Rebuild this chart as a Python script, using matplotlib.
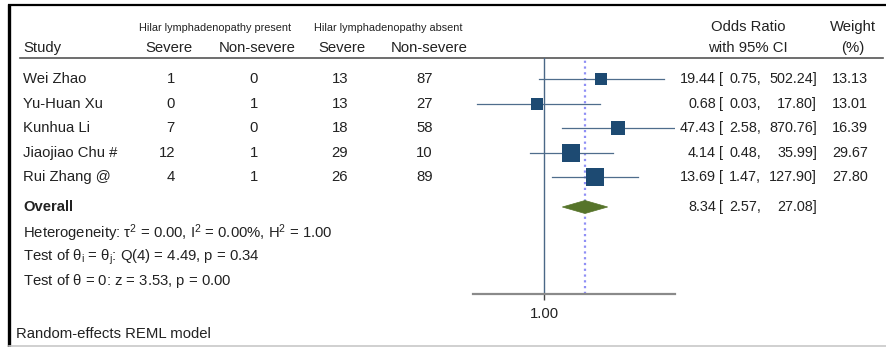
import numpy as np
import matplotlib

matplotlib.use("Agg")
import matplotlib.pyplot as plt
from matplotlib.patches import Polygon

plt.rcParams["font.family"] = ["Liberation Sans", "DejaVu Sans"]
plt.rcParams["mathtext.fontset"] = "custom"
plt.rcParams["mathtext.rm"] = "Liberation Sans"
plt.rcParams["mathtext.it"] = "Liberation Sans"
plt.rcParams["mathtext.default"] = "regular"

# data
studies = ["Wei Zhao", "Yu-Huan Xu", "Kunhua Li", "Jiaojiao Chu #", "Rui Zhang @"]
present_severe = [1, 0, 7, 12, 4]
present_nonsevere = [0, 1, 0, 1, 1]
absent_severe = [13, 13, 18, 29, 26]
absent_nonsevere = [87, 27, 58, 10, 89]
odds_ratio = [19.44, 0.68, 47.43, 4.14, 13.69]
ci_low = [0.75, 0.03, 2.58, 0.48, 1.47]
ci_high = [502.24, 17.80, 870.76, 35.99, 127.90]
weight = [13.13, 13.01, 16.39, 29.67, 27.80]
overall = (8.34, 2.57, 27.08)
het_text = r"Heterogeneity: $\tau^{2}$ = 0.00, $I^{2}$ = 0.00%, $H^{2}$ = 1.00"
q_text = r"Test of $\theta_{i}$ = $\theta_{j}$: Q(4) = 4.49, p = 0.34"
z_text = r"Test of $\theta$ = 0: z = 3.53, p = 0.00"
model_text = "Random-effects REML model"

W, H = 886, 347
TXT = "#222222"
FS = 10.7
FS_CI = 10.4
SQ = "#1d4a72"
CI_COL = "#4f6d8c"

fig = plt.figure(figsize=(W / 100, H / 100), dpi=100)
bg = fig.add_axes([0, 0, 1, 1])
bg.set_xlim(0, W)
bg.set_ylim(H, 0)
bg.axis("off")

# screenshot frame
bg.plot([8, W], [5, 5], color="black", lw=1.6, solid_capstyle="butt")
bg.plot([9.5, 9.5], [4, H], color="black", lw=2.4, solid_capstyle="butt")
bg.plot([9, W], [346, 346], color="#c8c8c8", lw=1.2)
# header rule
bg.plot([20, 883], [58, 58], color="#555555", lw=1.2)

# headers
bg.text(215, 28, "Hilar lymphadenopathy present", fontsize=7.8, color=TXT,
        ha="center", va="center")
bg.text(388, 28, "Hilar lymphadenopathy absent", fontsize=7.8, color=TXT,
        ha="center", va="center")
bg.text(23, 48, "Study", fontsize=FS, color=TXT, va="center")
for xc, lab in zip([169, 257, 342, 429], ["Severe", "Non-severe", "Severe", "Non-severe"]):
    bg.text(xc, 48, lab, fontsize=FS, color=TXT, ha="center", va="center")
bg.text(748, 27, "Odds Ratio", fontsize=FS, color=TXT, ha="center", va="center")
bg.text(748, 48, "with 95% CI", fontsize=FS, color=TXT, ha="center", va="center")
bg.text(853, 27, "Weight", fontsize=FS, color=TXT, ha="center", va="center")
bg.text(853, 48, "(%)", fontsize=FS, color=TXT, ha="center", va="center")

row_y = [79 + 24.5 * i for i in range(len(studies))]
cols = [present_severe, present_nonsevere, absent_severe, absent_nonsevere]
col_x = [175, 258, 348, 433]


def ci_text(y, est, lo, hi):
    bg.text(716, y, f"{est:.2f}", fontsize=FS_CI, color=TXT, ha="right", va="center")
    bg.text(719, y, "[", fontsize=FS_CI, color=TXT, ha="left", va="center")
    bg.text(761, y, f"{lo:.2f},", fontsize=FS_CI, color=TXT, ha="right", va="center")
    bg.text(817, y, f"{hi:.2f}]", fontsize=FS_CI, color=TXT, ha="right", va="center")


for i, y in enumerate(row_y):
    bg.text(23, y, studies[i], fontsize=FS, color=TXT, va="center")
    for cx, vals in zip(col_x, cols):
        bg.text(cx, y, str(vals[i]), fontsize=FS, color=TXT, ha="right", va="center")
    ci_text(y, odds_ratio[i], ci_low[i], ci_high[i])
    bg.text(868, y, f"{weight[i]:.2f}", fontsize=FS_CI, color=TXT, ha="right", va="center")

y_over = 207
bg.text(23, y_over, "Overall", fontsize=FS, color=TXT, va="center", fontweight="bold")
ci_text(y_over, *overall)
bg.text(23, 237.5, het_text, fontsize=FS, color=TXT, va="baseline")
bg.text(23, 261, q_text, fontsize=FS, color=TXT, va="baseline")
bg.text(23, 285.5, z_text, fontsize=FS, color=TXT, va="baseline")
bg.text(16, 334, model_text, fontsize=FS, color=TXT, va="center")

# forest panel, log scale, same vertical pixel frame as bg
x0, x1, ytop, ybot = 473, 675, 58, 294
ax = fig.add_axes([x0 / W, 1 - ybot / H, (x1 - x0) / W, (ybot - ytop) / H])
ax.set_xscale("log")
ax.set_xlim(0.025, 890)
ax.set_ylim(ybot, ytop)
ax.patch.set_alpha(0)
for s in ["top", "left", "right"]:
    ax.spines[s].set_visible(False)
ax.spines["bottom"].set_color("#8a8a8a")
ax.spines["bottom"].set_linewidth(1.6)
ax.set_yticks([])
ax.set_xticks([1])
ax.set_xticklabels(["1.00"])
ax.xaxis.set_minor_locator(matplotlib.ticker.NullLocator())
ax.tick_params(axis="x", length=4, width=1, color="#444444", pad=5,
               labelsize=FS, labelcolor=TXT)

ax.axvline(1, color="#4a6786", lw=1.0, zorder=1)
ax.axvline(overall[0], color="#8f8ff5", lw=1.6, ls=(0, (1, 1.6)), zorder=1)

for i, y in enumerate(row_y):
    ax.plot([ci_low[i], ci_high[i]], [y, y], color=CI_COL, lw=0.9, zorder=2)
    ax.plot(odds_ratio[i], y, marker="s", color=SQ, ms=3.3 * np.sqrt(weight[i]) * 0.72,
            mew=0, zorder=3)

est, lo, hi = overall
ax.add_patch(Polygon([(lo, y_over), (est, y_over - 6.5), (hi, y_over), (est, y_over + 6.5)],
                     closed=True, facecolor="#56742a", edgecolor="#56742a", lw=0.5,
                     zorder=3, clip_on=False))

fig.savefig("out.png", dpi=100)
